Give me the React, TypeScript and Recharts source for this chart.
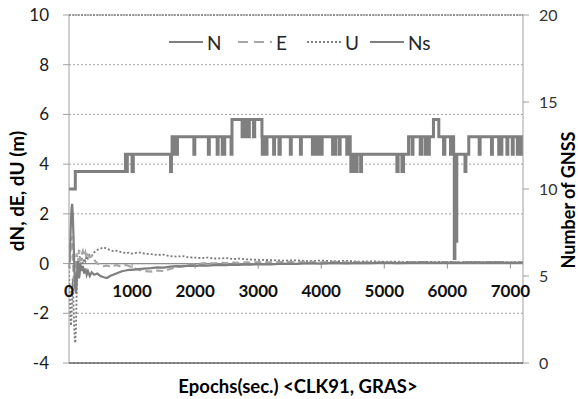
import React from 'react';
import { ComposedChart, Line, XAxis, YAxis, CartesianGrid, ReferenceLine } from 'recharts';

// Epochs (s) at which the position errors are sampled
const epochs = [
  0, 10, 20, 30, 40, 50, 60, 70, 80, 90, 100, 110, 120, 130, 140, 150, 160, 170, 180,
  200, 220, 240, 260, 280, 300, 330, 360,
  400, 450, 500, 550, 600, 650, 700, 750, 800, 850, 900, 950, 1000,
  1100, 1200, 1300, 1400, 1500, 1600, 1700, 1800, 1900, 2000,
  2100, 2200, 2300, 2400, 2500, 2600, 2700, 2800, 2900, 3000,
  3200, 3400, 3600, 3800, 4000, 4200, 4400, 4600, 4800, 5000,
  5200, 5400, 5600, 5800, 6000, 6200, 6400, 6600, 6800, 7000, 7200,
];

// North error (m)
const dN = [
  0.0, 0.3, 0.9, 1.6, 2.2, 2.4, 2.0, 1.2, 0.3, -0.5, -1.0, -1.2, -0.9, -0.3, 0.1, -0.1, -0.6, -0.4, 0.0,
  -0.3, -0.1, -0.4, -0.2, -0.45, -0.3, -0.5, -0.35,
  -0.45, -0.4, -0.5, -0.55, -0.58, -0.5, -0.45, -0.4, -0.35, -0.3, -0.28, -0.25, -0.25,
  -0.22, -0.2, -0.18, -0.15, -0.16, -0.12, -0.1, -0.11, -0.08, -0.09,
  -0.07, -0.08, -0.06, -0.05, -0.06, -0.04, -0.05, -0.03, -0.04, -0.02,
  -0.03, 0.0, -0.01, 0.02, 0.0, 0.03, 0.01, 0.03, 0.02, 0.04,
  0.02, 0.03, 0.05, 0.03, 0.04, 0.03, 0.05, 0.04, 0.05, 0.03, 0.04,
];

// East error (m)
const dE = [
  0.0, -0.2, 0.3, 0.8, 1.1, 0.9, 0.4, -0.3, -0.8, -1.0, -0.6, 0.0, 0.4, 0.2, -0.2, 0.3, 0.55, 0.4, 0.1,
  0.35, 0.5, 0.3, 0.45, 0.2, 0.35, 0.25, 0.3,
  0.15, 0.0, -0.05, -0.1, -0.08, -0.12, -0.1, -0.06, -0.1, -0.08, -0.05, -0.1, -0.15,
  -0.25, -0.3, -0.32, -0.28, -0.3, -0.22, -0.15, -0.1, -0.05, -0.03,
  0.0, 0.02, 0.01, 0.03, 0.02, 0.04, 0.03, 0.05, 0.04, 0.06,
  0.05, 0.07, 0.06, 0.08, 0.05, 0.07, 0.05, 0.06, 0.04, 0.05,
  0.04, 0.06, 0.05, 0.04, 0.06, 0.05, 0.04, 0.06, 0.05, 0.04, 0.05,
];

// Up error (m)
const dU = [
  -0.3, -1.0, -2.0, -2.5, -2.2, -1.2, -0.6, -1.5, -2.4, -3.0, -3.2, -2.6, -1.4, -0.4, 0.1, -0.3, -0.1, 0.3, 0.0,
  0.25, 0.0, 0.2, 0.1, 0.3, 0.2, 0.35, 0.3,
  0.45, 0.55, 0.6, 0.65, 0.6, 0.55, 0.5, 0.52, 0.48, 0.45, 0.42, 0.44, 0.4,
  0.45, 0.4, 0.38, 0.35, 0.36, 0.3, 0.28, 0.3, 0.25, 0.24,
  0.22, 0.24, 0.2, 0.21, 0.22, 0.18, 0.2, 0.17, 0.16, 0.15,
  0.14, 0.12, 0.13, 0.1, 0.12, 0.09, 0.11, 0.08, 0.09, 0.07,
  0.08, 0.06, 0.07, 0.06, 0.07, 0.05, 0.06, 0.05, 0.06, 0.05, 0.06,
];

// Number of tracked GNSS satellites (value holds until the next epoch)
const nsEpochs = [
  0, 100, 895, 910, 925, 1000, 1020, 1610, 1625, 1635, 1660, 1675, 1700, 1720,
  1980, 1995, 2210, 2225, 2350, 2365, 2430, 2445, 2455, 2470, 2570, 2585,
  2745, 2760, 2775, 2800, 2845, 2860, 2925, 2945, 3060, 3065, 3080, 3095, 3110, 3125, 3140,
  3245, 3260, 3330, 3350, 3510, 3525, 3670, 3685, 3860, 3875, 3895, 3935, 3970, 3985, 4000, 4015,
  4180, 4195, 4215, 4230, 4285, 4300, 4405, 4420, 4440, 4450, 4460, 4470, 4485, 4500, 4515, 4535, 4570,
  4625, 4640, 5200, 5220, 5280, 5305, 5385, 5440, 5455, 5570, 5595, 5650, 5665, 5685, 5715,
  5780, 5865, 5940, 5960, 6050, 6065, 6075, 6090, 6100, 6110, 6120, 6125, 6150,
  6280, 6295, 6340, 6505, 6520, 6700, 6715, 6815, 6830, 6845, 6865, 6945, 6960,
  7030, 7045, 7110, 7125, 7165, 7180, 7200,
];
const nsCount = [
  10, 11, 12, 11, 12, 11, 12, 11, 12, 13, 12, 13, 12, 13,
  12, 13, 12, 13, 12, 13, 12, 13, 12, 13, 12, 14,
  13, 14, 13, 14, 13, 14, 13, 14, 13, 12, 13, 12, 13, 12, 13,
  12, 13, 12, 13, 12, 13, 12, 13, 12, 13, 12, 13, 12, 13, 12, 13,
  12, 13, 12, 13, 12, 13, 12, 13, 12, 13, 12, 11, 12, 11, 12, 11, 12,
  11, 12, 11, 12, 11, 12, 13, 12, 13, 12, 13, 12, 13, 12, 13,
  14, 13, 12, 13, 12, 13, 12, 13, 12, 6, 12, 7, 12,
  11, 12, 13, 12, 13, 12, 13, 12, 13, 12, 13, 12, 13,
  12, 13, 12, 13, 12, 13, 13,
];

const xTicks = [0, 1000, 2000, 3000, 4000, 5000, 6000, 7000];
const leftTicks = [-4, -2, 0, 2, 4, 6, 8, 10];
const rightTicks = [0, 5, 10, 15, 20];

const errData = epochs.map((t, i) => ({ t, n: dN[i], e: dE[i], u: dU[i] }));
const nsData = nsEpochs.map((t, i) => ({ t, ns: nsCount[i] }));

const W = 578;
const H = 399;
const LEFT_W = 69;
const RIGHT_W = 55;
const X_H = 36;
const PLOT_TOP = 15;
const PLOT_H = H - PLOT_TOP - X_H;
const Y_MIN = leftTicks[0];
const Y_MAX = leftTicks[leftTicks.length - 1];
// pixel row of the dN/dE/dU zero line, where the horizontal axis crosses
const ZERO_Y = PLOT_TOP + ((Y_MAX - 0) / (Y_MAX - Y_MIN)) * PLOT_H;

const FONT = "Lato, 'Liberation Sans', sans-serif";
const GREY = '#7f7f7f';

const XTick = (props: any) => {
  const { x, payload } = props;
  return (
    <g>
      <line x1={x} x2={x} y1={ZERO_Y} y2={ZERO_Y + 5} stroke="#8c8c8c" strokeWidth={1} />
      <text
        x={x}
        y={ZERO_Y + 27}
        textAnchor="middle"
        dominantBaseline="central"
        fontFamily={FONT}
        fontWeight="bold"
        fontSize={17}
        fill="#111"
      >
        {payload.value}
      </text>
    </g>
  );
};

const legendItems = [
  { label: 'N', x: 169, color: GREY, width: 2, dash: undefined as string | undefined },
  { label: 'E', x: 238, color: '#a6a6a6', width: 2.2, dash: '10 6' },
  { label: 'U', x: 307, color: GREY, width: 1.8, dash: '2 2' },
  { label: 'Ns', x: 370, color: GREY, width: 2.2, dash: undefined },
];

export default function App() {
  return (
    <div style={{ position: 'absolute', left: 0, top: 0, width: W, height: H, background: '#fff' }}>
      <ComposedChart
        width={W}
        height={H}
        margin={{ top: PLOT_TOP, right: 0, bottom: 0, left: 0 }}
      >
        <CartesianGrid
          yAxisId="left"
          horizontal
          vertical={false}
          stroke="#a0a0a0"
          strokeDasharray="2 2"
        />
        <XAxis
          type="number"
          dataKey="t"
          domain={[0, 7200]}
          ticks={xTicks}
          interval={0}
          height={X_H}
          axisLine={{ stroke: '#262626', strokeWidth: 1.2 }}
          tickLine={false}
          tick={<XTick />}
          allowDataOverflow
        />
        <YAxis
          yAxisId="left"
          orientation="left"
          width={LEFT_W}
          domain={[Y_MIN, Y_MAX]}
          ticks={leftTicks}
          interval={0}
          tickSize={6}
          tickMargin={14}
          axisLine={{ stroke: '#a0a0a0' }}
          tickLine={{ stroke: '#a0a0a0' }}
          tick={{ fill: '#1a1a1a', fontSize: 17, fontFamily: FONT }}
          allowDataOverflow
        />
        <YAxis
          yAxisId="right"
          orientation="right"
          width={RIGHT_W}
          domain={[0, 20]}
          ticks={rightTicks}
          interval={0}
          tickSize={6}
          tickMargin={10}
          axisLine={{ stroke: '#a0a0a0' }}
          tickLine={{ stroke: '#a0a0a0' }}
          tick={{ fill: '#333', fontSize: 16, fontFamily: FONT, textAnchor: 'start' }}
        />
        <ReferenceLine yAxisId="left" y={10} stroke="#555" strokeDasharray="2 1" />
        <ReferenceLine yAxisId="left" y={0} stroke="#8c8c8c" strokeWidth={1.2} />
        <Line
          yAxisId="right"
          data={nsData}
          dataKey="ns"
          type="stepAfter"
          stroke={GREY}
          strokeWidth={3}
          dot={false}
          isAnimationActive={false}
        />
        <Line
          yAxisId="left"
          data={errData}
          dataKey="u"
          type="linear"
          stroke="#7a7a7a"
          strokeWidth={1.8}
          strokeDasharray="2 2"
          dot={false}
          isAnimationActive={false}
        />
        <Line
          yAxisId="left"
          data={errData}
          dataKey="e"
          type="linear"
          stroke="#a6a6a6"
          strokeWidth={2.2}
          strokeDasharray="7 4"
          dot={false}
          isAnimationActive={false}
        />
        <Line
          yAxisId="left"
          data={errData}
          dataKey="n"
          type="linear"
          stroke={GREY}
          strokeWidth={2.2}
          dot={false}
          isAnimationActive={false}
        />
      </ComposedChart>
      <svg
        width={W}
        height={H}
        style={{ position: 'absolute', left: 0, top: 0, pointerEvents: 'none' }}
      >
        <g fontFamily={FONT} fontSize={19} fill="#262626">
          {legendItems.map((it) => (
            <g key={it.label}>
              <line
                x1={it.x}
                x2={it.x + 34}
                y1={42}
                y2={42}
                stroke={it.color}
                strokeWidth={it.width}
                strokeDasharray={it.dash}
              />
              <text x={it.x + 38} y={42} dominantBaseline="central">
                {it.label}
              </text>
            </g>
          ))}
        </g>
        <text
          transform="translate(16,191) rotate(-90)"
          textAnchor="middle"
          dominantBaseline="central"
          fontFamily={FONT}
          fontWeight="bold"
          fontSize={19}
          fill="#000"
        >
          dN, dE, dU (m)
        </text>
        <text
          transform="translate(568,200) rotate(-90)"
          textAnchor="middle"
          dominantBaseline="central"
          fontFamily={FONT}
          fontWeight="bold"
          fontSize={18}
          fill="#000"
        >
          Number of GNSS
        </text>
        <text
          x={298}
          y={386}
          textAnchor="middle"
          dominantBaseline="central"
          fontFamily={FONT}
          fontWeight="bold"
          fontSize={18.5}
          fill="#000"
        >
          Epochs(sec.) &lt;CLK91, GRAS&gt;
        </text>
      </svg>
    </div>
  );
}
